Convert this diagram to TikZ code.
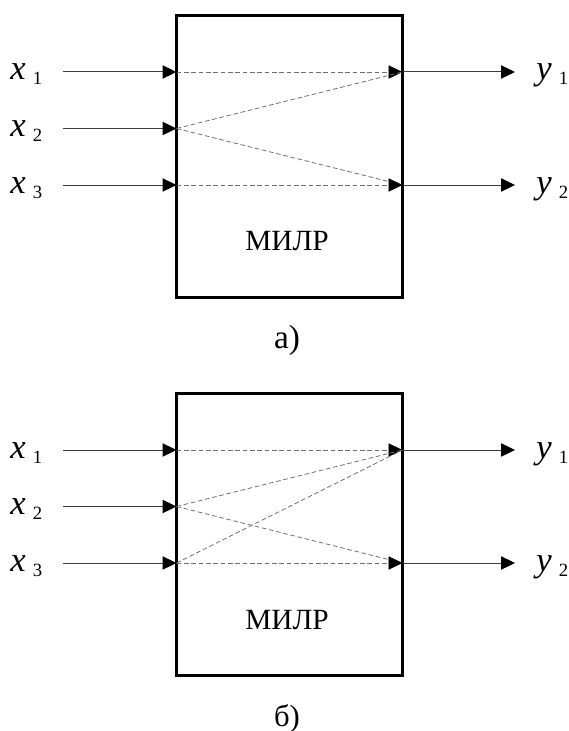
\documentclass[tikz,border=0pt]{standalone}
\usepackage{fontspec}
\setmainfont{Liberation Serif}
\usepackage{graphicx}
\usepackage{tikz}
\usetikzlibrary{arrows.meta,positioning}
\definecolor{pinline}{HTML}{3C3C3C}
\definecolor{linkgray}{HTML}{6E6E6E}

% variable with its index
\newcommand{\pinlabel}[2]{{\fontsize{26pt}{26pt}\selectfont\itshape #1}%
  \kern5.5pt\raisebox{-3.75pt}{\fontsize{14pt}{14pt}\selectfont #2}}

\begin{document}
\begin{tikzpicture}[
  x=0.75pt,y=-0.75pt,
  milr/.style={draw=black,line width=2.1pt,minimum width=169.9pt,
               minimum height=211.5pt,inner sep=0pt},
  lbl/.style={anchor=base west,inner sep=0pt},
  title/.style={anchor=base,inner sep=0pt,font=\fontsize{22pt}{22pt}\selectfont},
  caption/.style={anchor=base,inner sep=0pt},
  sig/.style={draw=pinline,line width=0.75pt,
              -{Triangle[length=10.5pt,width=10pt,color=black,fill=black]}},
  link/.style={draw=linkgray,line width=0.6pt,dash pattern=on 3.5pt off 2pt},
  linkto/.style={link,-{Triangle[length=10.5pt,width=10pt,color=black,fill=black]}},
]
\useasboundingbox (0,0) rectangle (568,731);

% --- a) ---
\node[milr] (boxA) at (289.5,156.25) {};
\node[title] (a-name) at (287,250) {МИЛР};
\node[caption,font=\fontsize{25pt}{25pt}\selectfont] (a-cap) at (287,348) {а)};

\coordinate (a-s1) at (63,72);
\coordinate (a-s2) at (63,128.5);
\coordinate (a-s3) at (63,185);
\coordinate (a-in1) at (176.5,72);
\coordinate (a-in2) at (176.5,128.5);
\coordinate (a-in3) at (176.5,185);
\coordinate (a-out1) at (402.5,72);
\coordinate (a-out2) at (402.5,185);
\coordinate (a-e1) at (515,72);
\coordinate (a-e2) at (515,185);

\node[lbl] (a-x1) at (10,80) {\pinlabel{x}{1}};
\node[lbl] (a-x2) at (10,136.5) {\pinlabel{x}{2}};
\node[lbl] (a-x3) at (10,193) {\pinlabel{x}{3}};
\node[lbl] (a-y1) at (536,80) {\pinlabel{y}{1}};
\node[lbl] (a-y2) at (536,193) {\pinlabel{y}{2}};

\draw[sig] (a-s1) -- (a-in1);
\draw[sig] (a-s2) -- (a-in2);
\draw[sig] (a-s3) -- (a-in3);
\draw[linkto] (a-in1) -- (a-out1);
\draw[link] (a-in2) -- (a-out1);
\draw[link] (a-in2) -- (a-out2);
\draw[linkto] (a-in3) -- (a-out2);
\draw[sig] (a-out1) -- (a-e1);
\draw[sig] (a-out2) -- (a-e2);

% --- b) ---
\node[milr] (boxB) at (289.5,534.25) {};
\node[title] (b-name) at (287,629) {МИЛР};
\node[caption,font=\fontsize{23pt}{23pt}\selectfont] (b-cap) at (287,726) {б)};

\coordinate (b-s1) at (63,450);
\coordinate (b-s2) at (63,506.5);
\coordinate (b-s3) at (63,563);
\coordinate (b-in1) at (176.5,450);
\coordinate (b-in2) at (176.5,506.5);
\coordinate (b-in3) at (176.5,563);
\coordinate (b-out1) at (402.5,450);
\coordinate (b-out2) at (402.5,563);
\coordinate (b-e1) at (515,450);
\coordinate (b-e2) at (515,563);

\node[lbl] (b-x1) at (10,458) {\pinlabel{x}{1}};
\node[lbl] (b-x2) at (10,514.5) {\pinlabel{x}{2}};
\node[lbl] (b-x3) at (10,571) {\pinlabel{x}{3}};
\node[lbl] (b-y1) at (536,458) {\pinlabel{y}{1}};
\node[lbl] (b-y2) at (536,571) {\pinlabel{y}{2}};

\draw[sig] (b-s1) -- (b-in1);
\draw[sig] (b-s2) -- (b-in2);
\draw[sig] (b-s3) -- (b-in3);
\draw[linkto] (b-in1) -- (b-out1);
\draw[link] (b-in2) -- (b-out1);
\draw[link] (b-in3) -- (b-out1);
\draw[link] (b-in2) -- (b-out2);
\draw[linkto] (b-in3) -- (b-out2);
\draw[sig] (b-out1) -- (b-e1);
\draw[sig] (b-out2) -- (b-e2);

\end{tikzpicture}
\end{document}
